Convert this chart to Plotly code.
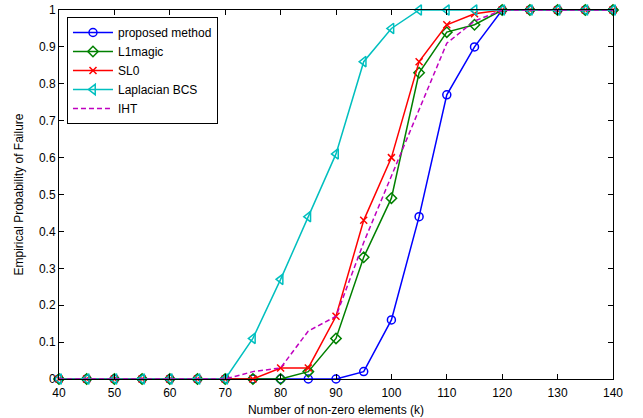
import plotly.graph_objects as go

k = [40, 45, 50, 55, 60, 65, 70, 75, 80, 85, 90, 95, 100, 105, 110, 115, 120, 125, 130, 135, 140]
proposed = [0, 0, 0, 0, 0, 0, 0, 0, 0, 0, 0, 0.02, 0.16, 0.44, 0.77, 0.90, 1, 1, 1, 1, 1]
l1magic = [0, 0, 0, 0, 0, 0, 0, 0, 0, 0.02, 0.11, 0.33, 0.49, 0.83, 0.94, 0.96, 1, 1, 1, 1, 1]
sl0 = [0, 0, 0, 0, 0, 0, 0, 0, 0.03, 0.03, 0.17, 0.43, 0.60, 0.86, 0.96, 0.99, 1, 1, 1, 1, 1]
laplacian = [0, 0, 0, 0, 0, 0, 0, 0.11, 0.27, 0.44, 0.61, 0.86, 0.95, 1, 1, 1, 1, 1, 1, 1, 1]
iht = [0, 0, 0, 0, 0, 0, 0, 0.02, 0.03, 0.13, 0.17, 0.37, 0.55, 0.73, 0.91, 0.97, 1, 1, 1, 1, 1]

x_ticks = [40, 50, 60, 70, 80, 90, 100, 110, 120, 130, 140]
y_ticks = [0, 0.1, 0.2, 0.3, 0.4, 0.5, 0.6, 0.7, 0.8, 0.9, 1]
y_tick_labels = ["0", "0.1", "0.2", "0.3", "0.4", "0.5", "0.6", "0.7", "0.8", "0.9", "1"]

FONT = "Liberation Sans, Arial, sans-serif"

fig = go.Figure()
fig.add_trace(go.Scatter(x=k, y=proposed, name="proposed method", mode="lines+markers",
                         line=dict(color="#0000FF", width=1.5),
                         marker=dict(symbol="circle-open", size=8, color="#0000FF", line=dict(width=1.5)),
                         cliponaxis=False))
fig.add_trace(go.Scatter(x=k, y=l1magic, name="L1magic", mode="lines+markers",
                         line=dict(color="#008000", width=1.5),
                         marker=dict(symbol="diamond-open", size=8, color="#008000", line=dict(width=1.5)),
                         cliponaxis=False))
fig.add_trace(go.Scatter(x=k, y=sl0, name="SL0", mode="lines+markers",
                         line=dict(color="#FF0000", width=1.5),
                         marker=dict(symbol="x-thin-open", size=7, color="#FF0000", line=dict(width=1.5)),
                         cliponaxis=False))
fig.add_trace(go.Scatter(x=k, y=laplacian, name="Laplacian BCS", mode="lines+markers",
                         line=dict(color="#00BFBF", width=1.5),
                         marker=dict(symbol="triangle-left-open", size=9, color="#00BFBF", line=dict(width=1.5)),
                         cliponaxis=False))
fig.add_trace(go.Scatter(x=k, y=iht, name="IHT", mode="lines",
                         line=dict(color="#BF00BF", width=1.5, dash="5px,3px"),
                         cliponaxis=False))

axis_common = dict(showline=True, linecolor="black", linewidth=1, mirror="ticks",
                   ticks="inside", ticklen=5, tickcolor="black", showgrid=False, zeroline=False,
                   automargin=False,
                   tickfont=dict(family=FONT, size=12, color="black"))

fig.update_xaxes(range=[40, 140], tickvals=x_ticks, ticklabelstandoff=3,
                 title=dict(text="Number of non-zero elements (k)", standoff=6,
                            font=dict(family=FONT, size=12, color="black")),
                 **axis_common)
fig.update_yaxes(range=[0, 1], tickvals=y_ticks, ticktext=y_tick_labels,
                 title=dict(text="Empirical Probability of Failure", standoff=12,
                            font=dict(family=FONT, size=12, color="black")),
                 **axis_common)

fig.update_layout(
    width=643, height=418,
    margin=dict(l=59, r=30, t=10, b=39, autoexpand=False),
    paper_bgcolor="white", plot_bgcolor="white",
    font=dict(family=FONT, size=12, color="black"),
    legend=dict(x=0.0144, y=0.981, xanchor="left", yanchor="top",
                bgcolor="white", bordercolor="black", borderwidth=1,
                font=dict(family=FONT, size=12, color="black"),
                tracegroupgap=0, itemwidth=40),
    showlegend=True,
)

fig.write_html("out.html", config={"displayModeBar": False},
               post_script="document.body.style.margin='0';document.body.style.overflow='hidden';")
